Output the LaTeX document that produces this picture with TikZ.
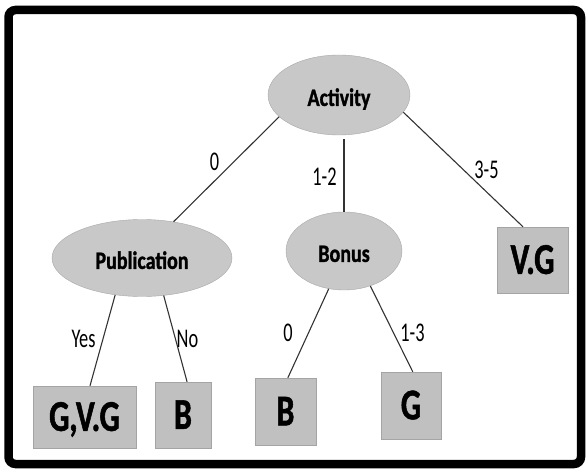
\documentclass[tikz,border=0pt]{standalone}
\usepackage{fontspec}
\setmainfont{Carlito}
\newfontfamily\ovalfont[FakeStretch=0.8, BoldFeatures={FakeBold=1.2}]{Carlito}
\newfontfamily\leaffont[FakeStretch=0.72, BoldFeatures={FakeBold=1.2}]{Carlito}
\newfontfamily\tagfont[FakeStretch=0.68]{Carlito}
\usetikzlibrary{shapes.geometric}
\definecolor{ovalfill}{HTML}{C8C8C8}
\definecolor{ovalline}{HTML}{A8A8A8}
\definecolor{leaffill}{HTML}{C0C0C0}
\definecolor{leafline}{HTML}{A4A4A4}
\definecolor{branchcol}{HTML}{333333}

\begin{document}
\begin{tikzpicture}[
  x=1pt, y=-1pt,
  oval/.style={ellipse, draw=ovalline, fill=ovalfill, inner sep=0pt, text height=21.8pt, text depth=0pt,
    font=\ovalfont\fontsize{25}{25}\selectfont\bfseries},
  leaf/.style={draw=leafline, fill=leaffill, inner sep=0pt, text height=27.8pt, text depth=0pt,
    font=\leaffont\fontsize{44}{44}\selectfont\bfseries},
  branch/.style={draw=branchcol, line width=1.1pt},
  tag/.style={inner sep=0pt, font=\tagfont\fontsize{27}{27}\selectfont}
]
\useasboundingbox (0,0) rectangle (586,473);
\draw[line width=8.5pt, rounded corners=7pt] (8.5,10) rectangle (581,464);

\node[oval, minimum width=142pt, minimum height=80pt] (act) at (339,95) {Activity};
\node[oval, minimum width=180pt, minimum height=77pt] (pub) at (142,258) {Publication};
\node[oval, minimum width=116pt, minimum height=78pt] (bon) at (344,251) {Bonus};

\node[leaf, minimum width=71pt, minimum height=66pt] (vg) at (532.5,260) {V.G};
\node[leaf, minimum width=103pt, minimum height=62pt] (gvg) at (84.5,417) {G,V.G};
\node[leaf, minimum width=56pt, minimum height=66pt] (pubb) at (183,415) {B};
\node[leaf, minimum width=61pt, minimum height=67pt] (bonb) at (285.5,411.5) {B};
\node[leaf, minimum width=60pt, minimum height=67pt] (bong) at (411,405.5) {G};

\draw[branch] (act.200) -- (pub.49);
\draw[branch, shorten <=4pt] (act.south -| bon.north) -- (bon.north);
\draw[branch] (act.345) -- (vg.106);
\draw[branch] (pub.234) -- (gvg.80);
\draw[branch] (pub.300) -- (pubb.83);
\draw[branch] (bon.248) -- (bonb.86);
\draw[branch] (bon.307) -- (bong.87);

\node[tag] (t-act-pub) at (214.5,161.5) {0};
\node[tag] (t-act-bon) at (324.5,176.5) {1-2};
\node[tag] (t-act-vg) at (486.5,170) {3-5};
\node[tag] (t-pub-yes) at (83.5,338.5) {Yes};
\node[tag] (t-pub-no) at (187.5,338.5) {No};
\node[tag] (t-bon-b) at (288,332.5) {0};
\node[tag] (t-bon-g) at (412.5,332.5) {1-3};
\end{tikzpicture}
\end{document}
